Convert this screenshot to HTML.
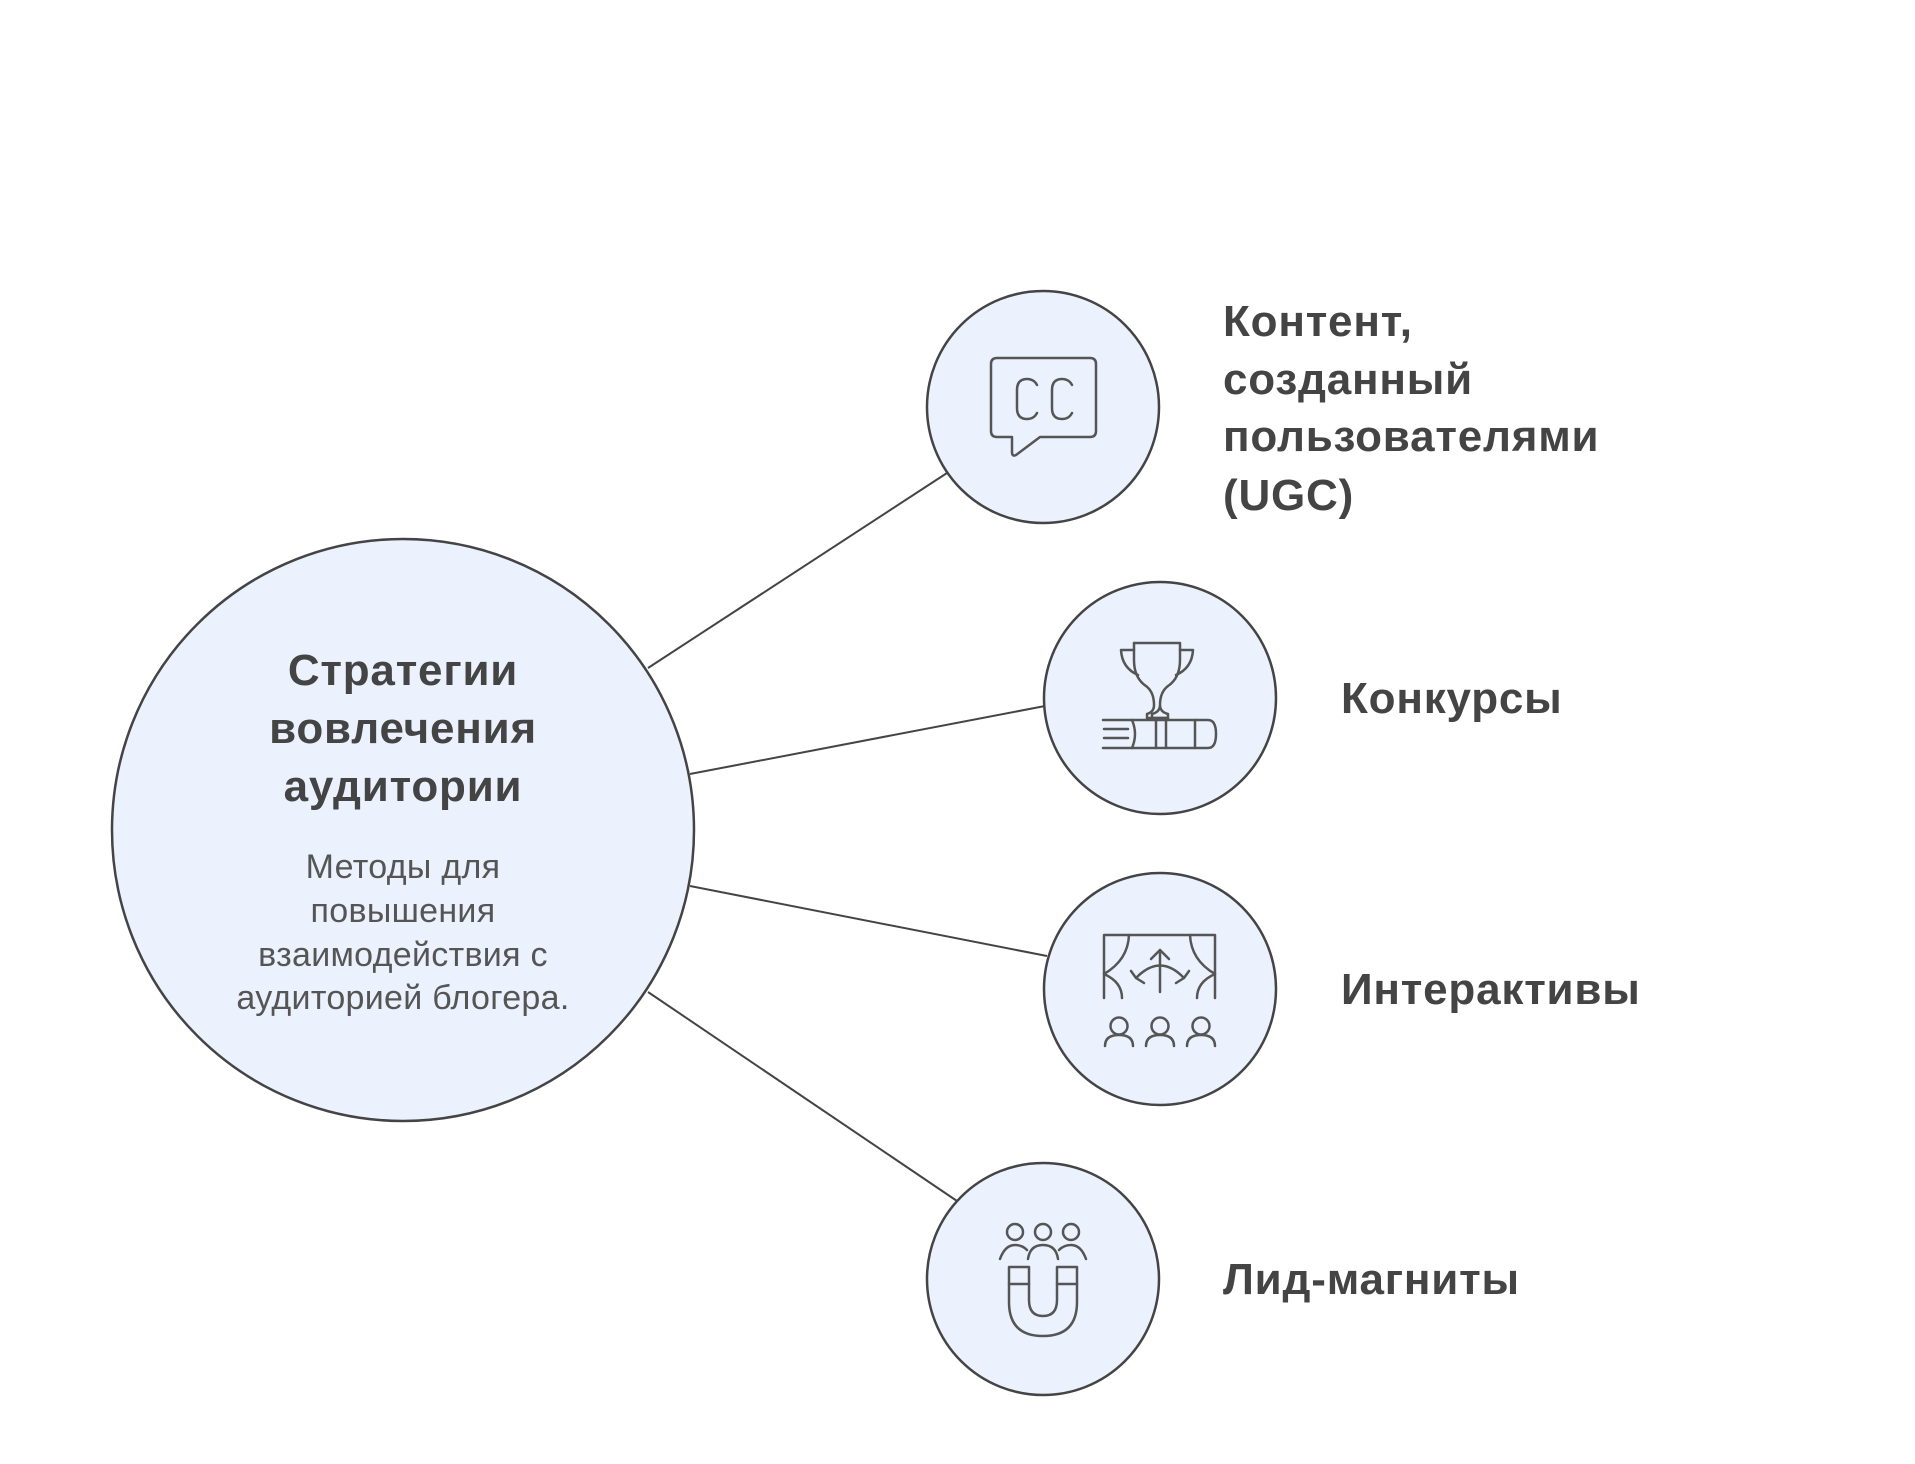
<!DOCTYPE html>
<html><head><meta charset="utf-8"><style>
html,body{margin:0;padding:0;background:#fff;}
svg{display:block;}
text{font-family:"Liberation Sans",sans-serif;}
</style></head><body>
<svg width="1915" height="1464" viewBox="0 0 1915 1464" xmlns="http://www.w3.org/2000/svg">
<g stroke="#444" stroke-width="2" fill="none">
<line x1="648" y1="668" x2="947" y2="473"/>
<line x1="690" y1="774" x2="1045" y2="706"/>
<line x1="690" y1="886" x2="1047" y2="956"/>
<line x1="648" y1="992" x2="957" y2="1201"/>
</g>
<g fill="#ebf2fe" stroke="#444" stroke-width="2.5">
<circle cx="403" cy="830" r="291"/>
<circle cx="1043" cy="407" r="116"/>
<circle cx="1160" cy="698" r="116"/>
<circle cx="1160" cy="989" r="116"/>
<circle cx="1043" cy="1279" r="116"/>
</g>
<g fill="none" stroke="#555" stroke-width="2.5" stroke-linecap="round" stroke-linejoin="round">
<!-- CC -->
<path d="M997 358 H1090 Q1096 358 1096 364 V431 Q1096 437 1090 437 H1040 L1016 455 Q1012 457 1012 452 V437 H997 Q991 437 991 431 V364 Q991 358 997 358 Z"/>
<path d="M1037 385 Q1034 379 1027 379 Q1017 379 1017 390 V408 Q1017 419 1027 419 Q1034 419 1037 413"/>
<path d="M1072 385 Q1069 379 1062 379 Q1052 379 1052 390 V408 Q1052 419 1062 419 Q1069 419 1072 413"/>
<!-- trophy -->
<path d="M1134 643 H1180 V660 Q1180 678 1168 686 Q1160 692 1160 705 Q1160 712 1168 714 V718 H1152 V714 Q1160 712 1160 705"/>
<path d="M1134 643 V660 Q1134 678 1146 686 Q1154 692 1154 705 Q1154 712 1147 714 V718 H1168"/>
<path d="M1134 650 H1121 Q1122 668 1138 675"/>
<path d="M1180 650 H1193 Q1192 668 1176 675"/>
<path d="M1103 720 H1208 Q1216 720 1216 734 Q1216 748 1208 748 H1103"/>
<path d="M1132 720 Q1138 734 1132 748"/><path d="M1156 720 V748"/><path d="M1166 720 V748"/><path d="M1195 720 V748"/>
<path d="M1104 729 H1128"/><path d="M1104 738 H1128"/>
<!-- interactive -->
<path d="M1104 998 V935 H1215 V998"/>
<path d="M1129 935 Q1128 960 1104 974 Q1122 982 1122 998"/>
<path d="M1190 935 Q1191 960 1215 974 Q1197 982 1197 998"/>
<path d="M1160 992 V950 M1151 959 L1160 950 L1169 959"/>
<path d="M1136 978 Q1160 953 1184 978 M1131 971 L1136 978 L1144 983 M1189 971 L1184 978 L1176 983"/>
<circle cx="1119" cy="1026" r="8.5"/><circle cx="1160" cy="1026" r="8.5"/><circle cx="1201" cy="1026" r="8.5"/>
<path d="M1105 1046 Q1105 1035 1119 1035 Q1133 1035 1133 1046"/>
<path d="M1146 1046 Q1146 1035 1160 1035 Q1174 1035 1174 1046"/>
<path d="M1187 1046 Q1187 1035 1201 1035 Q1215 1035 1215 1046"/>
<!-- magnet -->
<circle cx="1015" cy="1232" r="8"/><circle cx="1043" cy="1232" r="8"/><circle cx="1071" cy="1232" r="8"/>
<path d="M1000 1259 Q1005 1245 1015 1245 Q1022 1245 1027 1250"/>
<path d="M1028 1259 Q1030 1245 1043 1245 Q1056 1245 1058 1259"/>
<path d="M1086 1259 Q1081 1245 1071 1245 Q1064 1245 1059 1250"/>
<path d="M1009 1267 H1029 V1300 Q1029 1316 1043 1316 Q1057 1316 1057 1300 V1267 H1077 V1302 Q1077 1336 1043 1336 Q1009 1336 1009 1302 Z"/>
<path d="M1009 1284 H1029 M1057 1284 H1077"/>
</g>
<g fill="#444" font-weight="bold" font-size="44" letter-spacing="0.8">
<text x="1223" y="336">Контент,</text>
<text x="1223" y="394">созданный</text>
<text x="1223" y="451">пользователями</text>
<text x="1223" y="510">(UGC)</text>
<text x="1341" y="713">Конкурсы</text>
<text x="1341" y="1004">Интерактивы</text>
<text x="1223" y="1294">Лид-магниты</text>
<g text-anchor="middle">
<text x="403" y="685">Стратегии</text>
<text x="403" y="743">вовлечения</text>
<text x="403" y="801">аудитории</text>
</g>
</g>
<g fill="#555" font-size="34" text-anchor="middle" letter-spacing="0.3">
<text x="403" y="878">Методы для</text>
<text x="403" y="922">повышения</text>
<text x="403" y="966">взаимодействия с</text>
<text x="403" y="1009">аудиторией блогера.</text>
</g>
</svg>
</body></html>
